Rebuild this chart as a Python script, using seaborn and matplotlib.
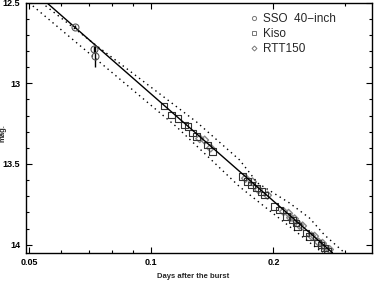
import matplotlib
matplotlib.use("Agg")
import matplotlib.pyplot as plt
import seaborn as sns
import pandas as pd
from matplotlib.lines import Line2D
from matplotlib.ticker import FixedLocator, NullFormatter

# ====== data ======
# SSO 40-inch (open circles, with error bars)
sso_t = [0.0648, 0.0722, 0.0726]
sso_m = [12.649, 12.79, 12.83]
sso_e = [0.01, 0.02, 0.07]

# Kiso (open squares)
kiso_t = [0.1073, 0.1121, 0.1164, 0.1208, 0.1231, 0.1265, 0.1291, 0.1377, 0.1416,
          0.1679, 0.1727, 0.1764, 0.1814, 0.1867, 0.1902, 0.2013, 0.2070, 0.2151,
          0.2229, 0.2276, 0.2293, 0.2409, 0.2454, 0.2568, 0.2622, 0.2672, 0.2718]
kiso_m = [13.141, 13.196, 13.217, 13.258, 13.269, 13.308, 13.331, 13.382, 13.424,
          13.579, 13.610, 13.630, 13.649, 13.672, 13.692, 13.765, 13.785, 13.827,
          13.847, 13.866, 13.888, 13.928, 13.950, 13.989, 14.002, 14.020, 14.043]

# RTT150 (small grey diamonds)
rtt_t = [0.1316, 0.1353, 0.1400, 0.1707, 0.1776, 0.1838, 0.1934, 0.2118, 0.2179,
         0.2204, 0.2254, 0.2319, 0.2359, 0.2482, 0.2525, 0.2582, 0.2642, 0.2687, 0.2749]
rtt_m = [13.343, 13.352, 13.401, 13.589, 13.611, 13.660, 13.694, 13.795, 13.806,
         13.833, 13.840, 13.880, 13.884, 13.946, 13.948, 13.984, 13.992, 14.021, 14.030]

# fit (solid) and its two bounds (dotted)
fit_t = [0.0552, 0.2796]
fit_m = [12.50, 14.05]
lo_t = [0.0499, 0.1153, 0.1650, 0.2642]
lo_m = [12.50, 13.269, 13.641, 14.05]
hi_t = [0.0536, 0.0713, 0.1293, 0.1650, 0.1828, 0.2191, 0.2454, 0.2672, 0.2993]
hi_m = [12.50, 12.744, 13.240, 13.475, 13.618, 13.742, 13.835, 13.940, 14.05]

x_major = [0.05, 0.1, 0.2]
x_major_labels = ["0.05", "0.1", "0.2"]
x_minor = [0.06, 0.07, 0.08, 0.09, 0.3]
y_major = [12.5, 13, 13.5, 14]
y_major_labels = ["12.5", "13", "13.5", "14"]
y_minor = [12.6, 12.7, 12.8, 12.9, 13.1, 13.2, 13.3, 13.4, 13.6, 13.7, 13.8, 13.9]

# ====== plot ======
sns.set_style("ticks")
plt.rcParams["font.family"] = ["Liberation Sans", "DejaVu Sans"]

fig = plt.figure(figsize=(3.74, 2.84), dpi=100)
ax = fig.add_axes([0.0687, 0.1102, 0.926, 0.8806])

ax.plot(fit_t, fit_m, color="black", lw=1.0)
ax.plot(lo_t, lo_m, color="black", lw=1.0, ls=(0, (1, 2.7)))
ax.plot(hi_t, hi_m, color="black", lw=1.0, ls=(0, (1, 2.7)))

ax.errorbar(sso_t, sso_m, yerr=sso_e, fmt="o", mfc="none", mec="#555555",
            ms=5, mew=0.8, ecolor="black", elinewidth=1.0, capsize=0)

rtt = pd.DataFrame({"t": rtt_t, "m": rtt_m})
sns.scatterplot(data=rtt, x="t", y="m", ax=ax, marker="D", s=16,
                facecolor="none", edgecolor="#888888", linewidth=1.0)
kiso = pd.DataFrame({"t": kiso_t, "m": kiso_m})
sns.scatterplot(data=kiso, x="t", y="m", ax=ax, marker="s", s=22,
                facecolor="none", edgecolor="#333333", linewidth=0.8)

ax.set_xscale("log")
ax.set_xlim(0.049, 0.35)
ax.set_ylim(14.05, 12.5)

ax.xaxis.set_major_locator(FixedLocator(x_major))
ax.set_xticklabels(x_major_labels)
ax.xaxis.set_minor_locator(FixedLocator(x_minor))
ax.xaxis.set_minor_formatter(NullFormatter())
ax.yaxis.set_major_locator(FixedLocator(y_major))
ax.set_yticklabels(y_major_labels)
ax.yaxis.set_minor_locator(FixedLocator(y_minor))

ax.tick_params(which="both", direction="in", top=True, right=True, width=0.8,
               labelsize=6.5, colors="black")
ax.tick_params(which="major", length=4, pad=4)
ax.tick_params(which="minor", length=2.5)
for lab in ax.get_xticklabels() + ax.get_yticklabels():
    lab.set_fontweight("bold")
for sp in ax.spines.values():
    sp.set_linewidth(1.0)
    sp.set_color("black")

ax.set_xlabel("")
ax.set_ylabel("")
fig.text(0.517, 0.025, "Days after the burst", ha="center", va="center",
         fontsize=5.5, fontweight="bold")
fig.text(0.009, 1 - 133 / 284, "mag.", rotation=90, ha="center", va="center",
         fontsize=5.5, fontweight="bold")

handles = [
    Line2D([], [], ls="none", marker="o", ms=3, mfc="none", mec="#777777", mew=0.7),
    Line2D([], [], ls="none", marker="s", ms=3, mfc="none", mec="#777777", mew=0.7),
    Line2D([], [], ls="none", marker="D", ms=2.5, mfc="none", mec="#777777", mew=0.7),
]
ax.legend(handles, ["SSO  40\u2212inch", "Kiso", "RTT150"], loc="upper left",
          bbox_to_anchor=(250 / 374, 1 - 13 / 284), bbox_transform=fig.transFigure,
          frameon=False, fontsize=8.5, handlelength=0.6, handletextpad=0.5,
          labelspacing=0.25, borderpad=0, borderaxespad=0)

fig.savefig("out.png", dpi=100)
